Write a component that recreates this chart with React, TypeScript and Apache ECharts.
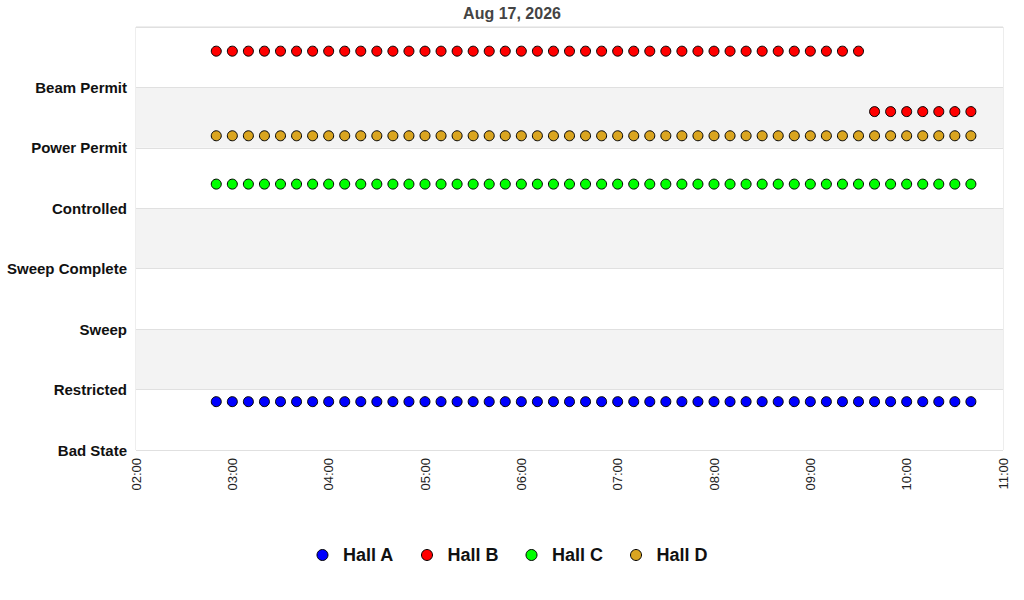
import React, { useEffect, useRef } from "react";
import * as echarts from "echarts";

const TITLE = "Aug 17, 2026";
const DAY = "2026-08-17";
const STATE_LABELS = ["Bad State", "Restricted", "Sweep", "Sweep Complete", "Controlled", "Power Permit", "Beam Permit", ""];
const X_MIN = "02:00";
const X_MAX = "11:00";

const times = [
  "02:50",
  "03:00", "03:10", "03:20", "03:30", "03:40", "03:50",
  "04:00", "04:10", "04:20", "04:30", "04:40", "04:50",
  "05:00", "05:10", "05:20", "05:30", "05:40", "05:50",
  "06:00", "06:10", "06:20", "06:30", "06:40", "06:50",
  "07:00", "07:10", "07:20", "07:30", "07:40", "07:50",
  "08:00", "08:10", "08:20", "08:30", "08:40", "08:50",
  "09:00", "09:10", "09:20", "09:30", "09:40", "09:50",
  "10:00", "10:10", "10:20", "10:30", "10:40",
];

const hallA = [
  0.8,
  0.8, 0.8, 0.8, 0.8, 0.8, 0.8,
  0.8, 0.8, 0.8, 0.8, 0.8, 0.8,
  0.8, 0.8, 0.8, 0.8, 0.8, 0.8,
  0.8, 0.8, 0.8, 0.8, 0.8, 0.8,
  0.8, 0.8, 0.8, 0.8, 0.8, 0.8,
  0.8, 0.8, 0.8, 0.8, 0.8, 0.8,
  0.8, 0.8, 0.8, 0.8, 0.8, 0.8,
  0.8, 0.8, 0.8, 0.8, 0.8,
];
const hallB = [
  6.6,
  6.6, 6.6, 6.6, 6.6, 6.6, 6.6,
  6.6, 6.6, 6.6, 6.6, 6.6, 6.6,
  6.6, 6.6, 6.6, 6.6, 6.6, 6.6,
  6.6, 6.6, 6.6, 6.6, 6.6, 6.6,
  6.6, 6.6, 6.6, 6.6, 6.6, 6.6,
  6.6, 6.6, 6.6, 6.6, 6.6, 6.6,
  6.6, 6.6, 6.6, 6.6, 5.6, 5.6,
  5.6, 5.6, 5.6, 5.6, 5.6,
];
const hallC = [
  4.4,
  4.4, 4.4, 4.4, 4.4, 4.4, 4.4,
  4.4, 4.4, 4.4, 4.4, 4.4, 4.4,
  4.4, 4.4, 4.4, 4.4, 4.4, 4.4,
  4.4, 4.4, 4.4, 4.4, 4.4, 4.4,
  4.4, 4.4, 4.4, 4.4, 4.4, 4.4,
  4.4, 4.4, 4.4, 4.4, 4.4, 4.4,
  4.4, 4.4, 4.4, 4.4, 4.4, 4.4,
  4.4, 4.4, 4.4, 4.4, 4.4,
];
const hallD = [
  5.2,
  5.2, 5.2, 5.2, 5.2, 5.2, 5.2,
  5.2, 5.2, 5.2, 5.2, 5.2, 5.2,
  5.2, 5.2, 5.2, 5.2, 5.2, 5.2,
  5.2, 5.2, 5.2, 5.2, 5.2, 5.2,
  5.2, 5.2, 5.2, 5.2, 5.2, 5.2,
  5.2, 5.2, 5.2, 5.2, 5.2, 5.2,
  5.2, 5.2, 5.2, 5.2, 5.2, 5.2,
  5.2, 5.2, 5.2, 5.2, 5.2,
];

const seriesDefs = [
  { name: "Hall A", color: "#0000ff", values: hallA },
  { name: "Hall B", color: "#ff0000", values: hallB },
  { name: "Hall C", color: "#00ff00", values: hallC },
  { name: "Hall D", color: "#daa520", values: hallD },
];

const FONT = "'Liberation Sans', Arial, Helvetica, sans-serif";

export default function App() {
  const ref = useRef<HTMLDivElement>(null);
  useEffect(() => {
    if (!ref.current) return;
    const chart = echarts.init(ref.current, null, { renderer: "svg" });
    const toTs = (t: string) => `${DAY} ${t}:00`;
    chart.setOption({
      animation: false,
      backgroundColor: "#ffffff",
      textStyle: { fontFamily: FONT },
      title: {
        text: TITLE,
        left: "center",
        top: 0,
        textStyle: { fontFamily: FONT, fontSize: 16, fontWeight: "bold", color: "#444" },
      },
      grid: {
        left: 136,
        right: 21,
        top: 27,
        bottom: 150,
        show: true,
        borderColor: "#dcdcdc",
        borderWidth: 1,
        backgroundColor: "transparent",
      },
      legend: {
        bottom: 31,
        left: "center",
        icon: "circle",
        itemWidth: 11,
        itemHeight: 11,
        itemGap: 27,
        textStyle: { fontFamily: FONT, fontSize: 18, fontWeight: "bold", color: "#111", padding: [0, 0, 0, 10] },
        data: seriesDefs.map((s) => ({
          name: s.name,
          itemStyle: { color: s.color, borderColor: "#000", borderWidth: 1 },
        })),
      },
      xAxis: {
        type: "time",
        min: toTs(X_MIN),
        max: toTs(X_MAX),
        interval: 3600 * 1000,
        axisLine: { show: false },
        axisTick: { show: false },
        splitLine: { show: false },
        axisLabel: {
          rotate: 90,
          fontFamily: FONT,
          fontSize: 13,
          color: "#222",
          margin: 8,
          showMinLabel: true,
          showMaxLabel: true,
          formatter: "{HH}:{mm}",
        },
      },
      yAxis: {
        type: "value",
        min: 0,
        max: 7,
        interval: 1,
        axisLine: { show: false },
        axisTick: { show: false },
        splitLine: { show: true, lineStyle: { color: "#e0e0e0", width: 1 } },
        splitArea: { show: true, areaStyle: { color: ["#ffffff", "#f3f3f3"] } },
        axisLabel: {
          fontFamily: FONT,
          fontSize: 15,
          fontWeight: "bold",
          color: "#111",
          margin: 9,
          formatter: (v: number) => STATE_LABELS[Math.round(v)] ?? "",
        },
      },
      series: seriesDefs.map((s) => ({
        name: s.name,
        type: "scatter",
        symbol: "circle",
        symbolSize: 10,
        itemStyle: { color: s.color, borderColor: "#000", borderWidth: 1, opacity: 1 },
        data: times.map((t, i) => [toTs(t), s.values[i]]),
      })),
    });
    return () => chart.dispose();
  }, []);
  return <div ref={ref} style={{ width: 1024, height: 600, position: "absolute", left: 0, top: 0 }} />;
}
